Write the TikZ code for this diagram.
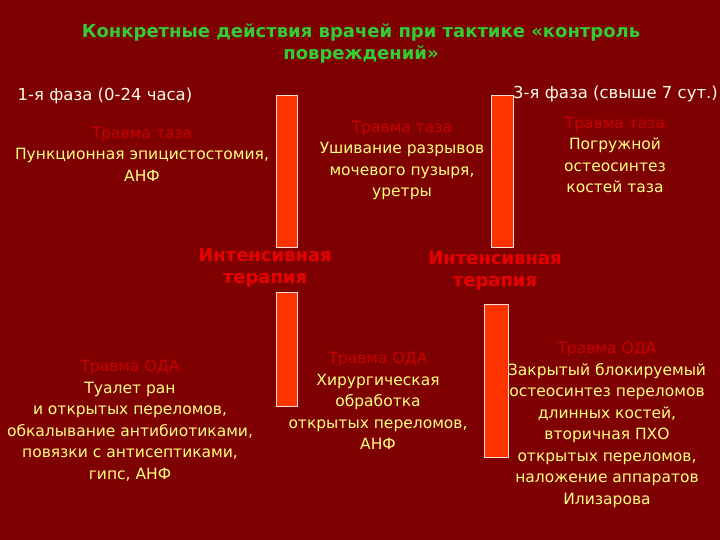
\documentclass[tikz,border=0pt]{standalone}
\usepackage{fontspec}
\setmainfont{DejaVu Sans}
\definecolor{bgred}{HTML}{7E0000}
\definecolor{barred}{HTML}{FF3300}
\definecolor{trred}{HTML}{C80000}
\definecolor{itred}{HTML}{E80000}
\definecolor{txyel}{HTML}{FFFF80}
\definecolor{ttgreen}{HTML}{33CC33}
\tikzset{
  bar/.style={fill=barred, draw=white!85!barred, line width=0.8pt, anchor=north west, inner sep=0pt, minimum width=21pt},
  txt/.style={anchor=north, inner sep=0pt, align=center, text=txyel, font=\fontsize{15.5}{21.5}\selectfont},
  faza/.style={anchor=base, inner sep=0pt, text=white!92!yellow, font=\fontsize{16.5}{19}\selectfont},
  itx/.style={anchor=north, inner sep=0pt, align=center, text=itred, font=\bfseries\fontsize{18}{22.5}\selectfont}
}
\newcommand{\trv}[1]{{\color{trred}#1}}
\begin{document}
\begin{tikzpicture}[x=1pt, y=-1pt]
  \fill[bgred] (0,0) rectangle (720,540);
  \useasboundingbox (0,0) rectangle (720,540);

  \node[anchor=north, inner sep=0pt, align=center, text=ttgreen, font=\bfseries\fontsize{18}{21.5}\selectfont] (title) at (361,24)
    {Конкретные действия врачей при тактике «контроль\\повреждений»};

  \node[faza] (f1) at (105,101) {1-я фаза (0-24 часа)};
  \node[faza, anchor=base east] (f3) at (718,99) {3-я фаза (свыше 7 сут.)};

  \node[bar, minimum height=152pt] (b1) at (276,95) {};
  \node[bar, minimum height=152pt, minimum width=22pt] (b2) at (491,95) {};
  \node[bar, minimum height=114pt] (b3) at (276,292) {};
  \node[bar, minimum height=153pt, minimum width=24pt] (b4) at (484,304) {};

  \node[txt] (t1) at (142,127) {\trv{Травма таза}\\Пункционная эпицистостомия,\\АНФ};
  \node[txt] (t2) at (402,121) {\trv{Травма таза}\\Ушивание разрывов\\мочевого пузыря,\\уретры};
  \node[txt] (t3) at (615,117) {\trv{Травма таза}\\Погружной\\остеосинтез\\костей таза};

  \node[itx] (i1) at (265,248) {Интенсивная\\терапия};
  \node[itx] (i2) at (495,251) {Интенсивная\\терапия};

  \node[txt] (t4) at (130,360) {\trv{Травма ОДА}\\Туалет ран\\и открытых переломов,\\обкалывание антибиотиками,\\повязки с антисептиками,\\гипс, АНФ};
  \node[txt] (t5) at (378,352) {\trv{Травма ОДА}\\Хирургическая\\обработка\\открытых переломов,\\АНФ};
  \node[txt] (t6) at (607,342) {\trv{Травма ОДА}\\Закрытый блокируемый\\остеосинтез переломов\\длинных костей,\\вторичная ПХО\\открытых переломов,\\наложение аппаратов\\Илизарова};
\end{tikzpicture}
\end{document}
